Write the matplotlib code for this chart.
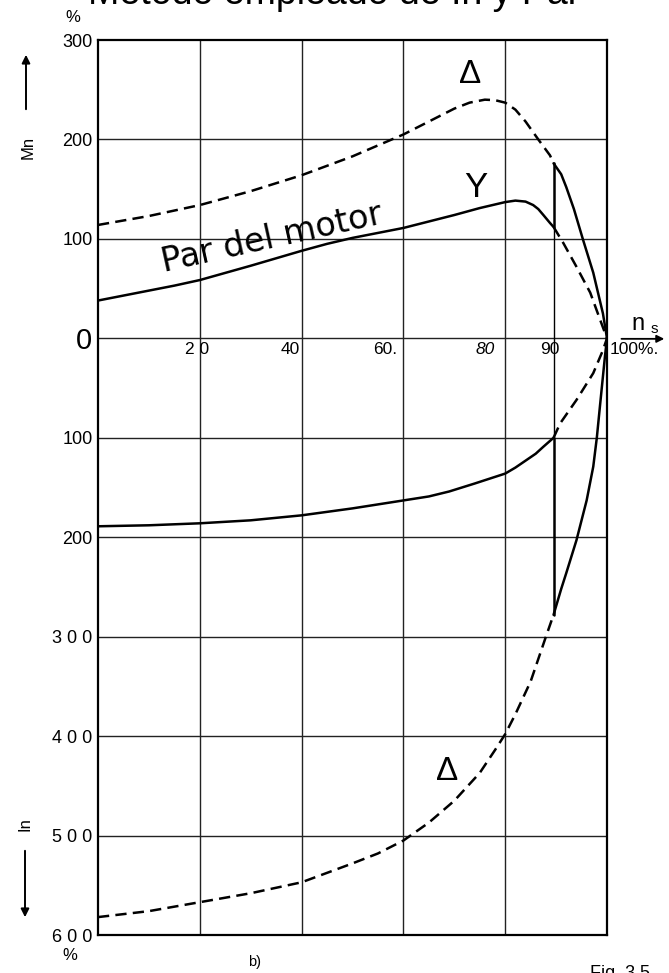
import matplotlib
matplotlib.use("Agg")
import matplotlib.pyplot as plt
from matplotlib import font_manager as fm


def pick(names):
    for n in names:
        try:
            fm.findfont(fm.FontProperties(family=n), fallback_to_default=False)
            return n
        except Exception:
            pass
    return "DejaVu Sans"


REG = pick(["Liberation Sans", "Arial", "DejaVu Sans"])
NAR = pick(["Liberation Sans Narrow", "DejaVu Sans Condensed", REG])

# ---------------- data (speed n/ns in %, values in %) ----------------
# Torque, delta connection (dashed) up to the switching point
x_tq_delta = [0, 10, 20, 30, 40, 50, 55, 60, 65, 70, 73, 76, 78, 80, 82, 84, 86.5, 88.8, 89.5]
tq_delta = [114, 123, 134, 148, 164, 183, 194, 205, 218, 231, 237, 240, 239.5, 237, 230, 218, 200, 184, 176]
# Torque, delta connection after switching (solid)
x_tq_delta_run = [89.5, 91, 92, 93.5, 95.3, 97.3, 99.2, 100]
tq_delta_run = [176, 165, 152, 130, 99, 66, 25, 0]
# Torque, star connection (solid) up to the switching point
x_tq_star = [0, 5, 10, 15, 20, 30, 40, 45, 50, 60, 70, 75, 80, 82, 84, 85.5, 86.5, 87.5, 88.8, 89.5]
tq_star = [38, 43, 48, 53, 58.6, 73, 88, 95, 101, 111, 124, 131, 137, 138.5, 137.5, 134, 130, 124, 116, 112]
# Torque, star connection continued (dashed)
x_tq_star_cont = [89.5, 91.4, 94, 96.7, 99.2, 100]
tq_star_cont = [112, 96, 72, 46, 11, 0]

# Current, star connection (solid) up to the switching point
x_in_star = [0, 10, 20, 30, 40, 50, 60, 65, 69, 74, 77, 80, 82, 84, 86, 87.5, 89.5]
in_star = [189, 188, 186, 183, 178, 171, 163, 159, 154, 146, 141, 136, 130, 123, 116, 109, 100]
# Current, star connection continued (dashed)
x_in_star_cont = [89.5, 90.8, 94, 97.3, 99.2, 100]
in_star_cont = [100, 85.5, 62, 35, 12, 0]
# Current, delta connection (dashed) up to the switching point
x_in_delta = [0, 10, 20, 30, 40, 50, 55, 60, 65, 70, 75, 78, 80, 82, 85, 88, 89.5]
in_delta = [582, 576, 567, 558, 547, 528, 518, 505, 487, 465, 437, 414, 398, 378, 345, 300, 278]
# Current, delta connection after switching (solid)
x_in_delta_run = [89.5, 91, 92, 94, 96, 97.3, 98, 98.6, 99.6, 100]
in_delta_run = [278, 252, 236, 203, 163, 129, 100, 69, 18, 0]

switch_x = 89.5

y_ticks = [300, 200, 100, 0, -100, -200, -300, -400, -500, -600]
y_tick_labels = ["300", "200", "100", "0", "100", "200", "3 0 0", "4 0 0", "5 0 0", "6 0 0"]
x_grid = [20, 40, 60, 80]

# ---------------- figure ----------------
W, H = 669, 973
fig = plt.figure(figsize=(W / 100, H / 100), dpi=100)
L, R, T, B = 98, 607, 40, 935
ax = fig.add_axes([L / W, 1 - B / H, (R - L) / W, (B - T) / H])
ax.set_xlim(0, 100)
ax.set_ylim(-600, 300)

for s in ax.spines.values():
    s.set_linewidth(1.6)
    s.set_color("black")

for y in y_ticks[1:-1]:
    ax.axhline(y, color="#222222", lw=1.0, zorder=1)
for x in x_grid:
    ax.axvline(x, color="#222222", lw=1.0, zorder=1)

ax.set_xticks([])
ax.set_yticks(y_ticks)
ax.set_yticklabels(y_tick_labels, family=REG, fontsize=13)
ax.tick_params(axis="y", length=0, pad=4)
for lab in ax.get_yticklabels():
    if lab.get_text() == "0":
        lab.set_fontsize(21)
        lab.set_family(NAR)

DASH = (4.5, 2.5)
LW = 1.8
kw_s = dict(color="black", lw=LW, zorder=3, solid_capstyle="round")
kw_d = dict(color="black", lw=LW, zorder=3, dashes=DASH)

ax.plot(x_tq_delta, tq_delta, **kw_d)
ax.plot(x_tq_delta_run, tq_delta_run, **kw_s)
ax.plot(x_tq_star, tq_star, **kw_s)
ax.plot(x_tq_star_cont, tq_star_cont, **kw_d)
ax.plot([switch_x, switch_x], [tq_star[-1], tq_delta_run[0]], **kw_s)

ax.plot(x_in_star, [-v for v in in_star], **kw_s)
ax.plot(x_in_star_cont, [-v for v in in_star_cont], **kw_d)
ax.plot(x_in_delta, [-v for v in in_delta], **kw_d)
ax.plot(x_in_delta_run, [-v for v in in_delta_run], **kw_s)
ax.plot([switch_x, switch_x], [-in_star[-1], -in_delta_run[0]], **kw_s)
# thin drop line at the switching speed
ax.plot([switch_x, switch_x], [tq_star[-1], -in_star[-1]], color="black", lw=1.0, zorder=2)

# curve labels
ax.text(73.1, 265, "Δ", family=NAR, fontsize=24, ha="center", va="center")
ax.text(74.3, 152, "Y", family=NAR, fontsize=25, ha="center", va="center")
ax.text(68.6, -436, "Δ", family=NAR, fontsize=24, ha="center", va="center")
ax.text(12.9, 66.5, "Par del motor", family="DejaVu Sans", fontsize=24, ha="left",
        va="baseline", rotation=12.5, rotation_mode="anchor")

# x labels on the zero line
xlab_kw = dict(family=REG, fontsize=12.5, va="top", clip_on=False)
ax.text(19.5, -3.5, "2 0", ha="center", **xlab_kw)
ax.text(39.6, -3.5, "40", ha="right", **xlab_kw)
ax.text(54.0, -3.5, "60.", ha="left", **xlab_kw)
ax.text(76.0, -3.5, "80", ha="center", style="italic", **xlab_kw)
ax.text(88.8, -3.5, "90", ha="center", **xlab_kw)
ax.text(100.5, -3.5, "100%.", ha="left", **xlab_kw)

# n_s with arrow
ax.text(104.8, 3, "n", family=REG, fontsize=17, ha="left", va="bottom", clip_on=False)
ax.text(108.6, 2, "s", family=REG, fontsize=11, ha="left", va="bottom", clip_on=False)
ax.annotate("", xy=(111.8, -0.5), xytext=(102.3, -0.5), xycoords="data",
            annotation_clip=False,
            arrowprops=dict(arrowstyle="-|>", color="black", lw=1.3, mutation_scale=11))


# left side labels
def fx(px):
    return px / W


def fy(py):
    return 1 - py / H


fig.text(fx(73), fy(18), "%", family=REG, fontsize=12, ha="center", va="center")
fig.text(fx(70), fy(956), "%", family=REG, fontsize=12, ha="center", va="center")
fig.text(fx(28), fy(147), "Mn", family=REG, fontsize=12, ha="center", va="center", rotation=90)
ax.annotate("", xy=(fx(26), fy(52)), xytext=(fx(26), fy(112)),
            xycoords="figure fraction", textcoords="figure fraction", annotation_clip=False,
            arrowprops=dict(arrowstyle="-|>", color="black", lw=1.4, mutation_scale=12))
fig.text(fx(25), fy(824), "In", family=REG, fontsize=12, ha="center", va="center", rotation=90)
ax.annotate("", xy=(fx(25), fy(920)), xytext=(fx(25), fy(848)),
            xycoords="figure fraction", textcoords="figure fraction", annotation_clip=False,
            arrowprops=dict(arrowstyle="-|>", color="black", lw=1.4, mutation_scale=12))

# partially visible caption texts (cut by the page edges, as in the scan)
fig.text(fx(88), fy(4), "Método empleado de In y Par", family=REG, fontsize=27,
         ha="left", va="baseline")
fig.text(fx(255), fy(962), "b)", family=REG, fontsize=10.5, ha="center", va="center")
fig.text(fx(590), fy(965), "Fig. 3.5", family=REG, fontsize=13, ha="left", va="top")

fig.savefig("out.png", dpi=100)
